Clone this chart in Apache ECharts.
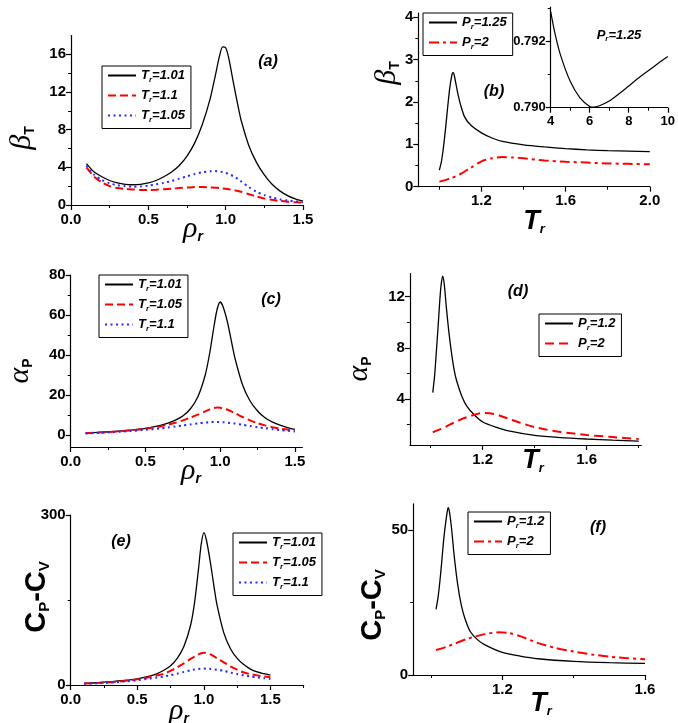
<!DOCTYPE html>
<html><head><meta charset="utf-8">
<script src="https://cdn.jsdelivr.net/npm/echarts@6/dist/echarts.min.js"></script>
<style>html,body{margin:0;padding:0;background:#fff}#c{width:678px;height:723px}</style>
</head><body><div id="c"></div>
<script>
// ---------- DATA ----------
// (a) beta_T vs rho_r
const aX = [0.1,0.15,0.2,0.25,0.3,0.35,0.4,0.45,0.5,0.55,0.6,0.65,0.7,0.75,0.8,0.85,0.9,0.93,0.96,0.98,1.0,1.02,1.05,1.08,1.1,1.15,1.2,1.25,1.3,1.35,1.4,1.45,1.5];
const aT101 = [4.4,3.5,3.0,2.6,2.35,2.2,2.15,2.2,2.35,2.6,3.0,3.5,4.2,5.2,6.6,8.6,11.3,13.5,15.8,16.8,16.7,15.6,13.0,10.5,9.0,6.3,4.5,3.2,2.2,1.5,1.0,0.65,0.4];
const aT11 = [4.0,3.0,2.4,2.0,1.8,1.7,1.65,1.6,1.6,1.62,1.67,1.73,1.8,1.85,1.9,1.9,1.87,1.84,1.8,1.76,1.72,1.67,1.58,1.48,1.4,1.15,0.9,0.7,0.55,0.43,0.35,0.29,0.25];
const aT105 = [4.2,3.2,2.65,2.3,2.1,2.0,1.95,1.97,2.05,2.2,2.35,2.55,2.8,3.05,3.3,3.48,3.58,3.6,3.56,3.5,3.4,3.3,3.05,2.75,2.5,1.9,1.4,1.05,0.8,0.6,0.47,0.37,0.3];
const aXLabels = [0,0.5,1.0,1.5], aXMinor = [0.25,0.75,1.25];
const aYLabels = [0,4,8,12,16], aYMinor = [2,6,10,14];
const aLegend = ['T_r=1.01','T_r=1.1','T_r=1.05'];

// (b) beta_T vs T_r
const bX1 = [1.0,1.01,1.02,1.03,1.04,1.05,1.06,1.065,1.07,1.08,1.09,1.1,1.12,1.15,1.2,1.25,1.3,1.4,1.5,1.6,1.7,1.8,1.9,2.0];
const bP125 = [0.39,0.6,0.95,1.4,1.9,2.35,2.65,2.7,2.65,2.4,2.15,1.95,1.65,1.45,1.27,1.15,1.07,0.99,0.94,0.9,0.87,0.85,0.84,0.83];
const bX2 = [1.0,1.05,1.1,1.15,1.2,1.25,1.3,1.35,1.4,1.5,1.6,1.7,1.8,1.9,2.0];
const bP2 = [0.12,0.19,0.3,0.45,0.6,0.67,0.7,0.69,0.67,0.62,0.59,0.57,0.55,0.54,0.53];
const bXLabels = [1.2,1.6,2.0], bXMinor = [1.0,1.4,1.8];
const bYLabels = [0,1,2,3,4], bYMinor = [0.5,1.5,2.5,3.5];
const bLegend = ['P_r=1.25','P_r=2'];

// (b) inset
const inX = [4,4.2,4.5,5,5.5,6,6.2,6.5,7,7.5,8,8.5,9,9.5,10];
const inY = [0.79291,0.7923,0.7916,0.7908,0.7903,0.79004,0.79002,0.79006,0.7902,0.79042,0.79066,0.7909,0.79112,0.79134,0.79155];
const inXLabels = [4,6,8,10], inXMinor = [5,7,9];
const inYLabels = [0.790,0.792], inYMinor = [0.791,0.793];

// (c) alpha_P vs rho_r
const cX = [0.1,0.2,0.3,0.4,0.5,0.6,0.65,0.7,0.75,0.8,0.85,0.9,0.93,0.96,0.98,1.0,1.02,1.05,1.08,1.1,1.15,1.2,1.25,1.3,1.35,1.4,1.45,1.5];
const cT101 = [1.0,1.4,1.8,2.4,3.3,4.8,5.9,7.4,9.5,13,19,30,41,55,63,66.5,64,56,45,38,25,17,12,8.6,6.4,4.9,3.7,2.8];
const cT105 = [0.9,1.3,1.7,2.3,3.1,4.3,5.1,6.1,7.3,8.7,10.2,11.8,12.8,13.5,13.7,13.6,13.3,12.6,11.6,10.9,9.0,7.3,5.9,4.8,3.9,3.2,2.7,2.3];
const cT11 = [0.8,1.1,1.5,2.0,2.6,3.3,3.8,4.3,4.8,5.3,5.8,6.2,6.4,6.5,6.5,6.5,6.4,6.2,5.9,5.7,5.1,4.5,3.9,3.4,2.9,2.5,2.1,1.8];
const cXLabels = [0,0.5,1.0,1.5], cXMinor = [0.25,0.75,1.25];
const cYLabels = [0,20,40,60,80], cYMinor = [10,30,50,70];
const cLegend = ['T_r=1.01','T_r=1.05','T_r=1.1'];

// (d) alpha_P vs T_r
const dX1 = [1.008,1.015,1.02,1.028,1.035,1.04,1.046,1.052,1.06,1.07,1.08,1.09,1.1,1.12,1.14,1.17,1.2,1.25,1.3,1.4,1.5,1.6,1.7,1.8];
const dP12 = [4.5,5.8,7.2,9.5,11.7,12.9,13.6,13.0,11.2,9.2,7.6,6.3,5.4,4.2,3.4,2.7,2.2,1.8,1.5,1.15,0.98,0.87,0.78,0.7];
const dX2 = [1.008,1.05,1.1,1.15,1.2,1.25,1.3,1.35,1.4,1.45,1.5,1.6,1.7,1.8];
const dP2 = [1.4,1.75,2.25,2.65,2.9,2.8,2.45,2.1,1.8,1.58,1.42,1.18,1.02,0.87];
const dXLabels = [1.2,1.6], dXMinor = [1.0,1.4,1.8];
const dYLabels = [4,8,12], dYMinor = [2,6,10];
const dLegend = ['P_r=1.2','P_r=2'];

// (e) Cp-Cv vs rho_r
const eX = [0.1,0.2,0.3,0.4,0.5,0.6,0.65,0.7,0.75,0.8,0.85,0.9,0.93,0.96,0.98,1.0,1.02,1.05,1.08,1.1,1.15,1.2,1.25,1.3,1.35,1.4,1.45,1.5];
const eT101 = [3,4,6,8,11,16,20,26,34,47,68,105,145,205,248,269,255,215,168,140,92,64,47,36,28,23,20,17.5];
const eT105 = [2.5,3.5,5,7,10,14,17,20,25,31,38,46,50,54,56,57,56.5,54,50,47,40,33,27,22,19,17,15,13.5];
const eT11 = [2,3,4.2,6,8.5,11.5,13.2,15,17.5,20,23,26,27.3,28.3,28.8,29,28.8,28.3,27.5,27,25,22,19.5,17,15,13.5,12,10.5];
const eXLabels = [0,0.5,1.0,1.5], eXMinor = [0.25,0.75,1.25,1.75];
const eYLabels = [0,300], eYMinor = [150];
const eLegend = ['T_r=1.01','T_r=1.05','T_r=1.1'];

// (f) Cp-Cv vs T_r
const fX1 = [1.014,1.02,1.025,1.03,1.035,1.04,1.045,1.048,1.052,1.058,1.065,1.075,1.085,1.095,1.11,1.13,1.15,1.2,1.25,1.3,1.4,1.5,1.6];
const fP12 = [22.6,27,32.5,39,46,51.5,56,57.7,56,50,41,31,24,19.5,15,12.2,10.5,7.8,6.5,5.6,4.7,4.25,4.0];
const fX2 = [1.014,1.05,1.1,1.15,1.19,1.22,1.25,1.3,1.35,1.4,1.45,1.5,1.55,1.6];
const fP2 = [8.6,10,12.4,14.1,14.7,14.4,13.4,11.0,9.3,8.1,7.1,6.3,5.8,5.4];
const fXLabels = [1.2,1.6], fXMinor = [1.0,1.4];
const fYLabels = [0,50], fYMinor = [25];
const fLegend = ['P_r=1.2','P_r=2'];

// ---------- BUILD ----------
const F = 'Liberation Sans, Arial, sans-serif';
const SERIF = 'Liberation Serif, Times New Roman, serif';
const BLACK = {color:'#000', width:1.3, type:'solid'};
const RED_DASH = {color:'#ff0000', width:2, type:[8,4]};
const RED_DASHDOT = {color:'#ff0000', width:2, type:[10,4,3,4]};
const BLUE_DOT = {color:'#2a2aff', width:2, type:[2,3.5]};

const grids = [], xAxes = [], yAxes = [], series = [], legends = [], graphics = [];

function axisPair(dim, gi, min, max, labels, minors, dec, fs) {
  const pos = dim === 'x' ? 'bottom' : 'left';
  const main = {
    type:'value', gridIndex:gi, position:pos, min:min, max:max,
    axisLine:{show:true, onZero:false, lineStyle:{color:'#000', width:1.2}},
    axisTick:{show:true, inside:false, length:5, customValues:labels, lineStyle:{color:'#000', width:1.2}},
    axisLabel:{show:true, customValues:labels, formatter:(v)=>Number(v).toFixed(dec), color:'#000',
      fontFamily:F, fontWeight:'bold', fontSize:fs, margin: dim==='x' ? 7 : 5},
    splitLine:{show:false}, minorTick:{show:false}
  };
  const minor = {
    type:'value', gridIndex:gi, position:pos, min:min, max:max,
    axisLine:{show:false, onZero:false},
    axisTick:{show:true, inside:false, length:3, customValues:minors, lineStyle:{color:'#000', width:1}},
    axisLabel:{show:false}, splitLine:{show:false}
  };
  return [main, minor];
}

function panel(g, x, y, legend, lines) {
  const gi = grids.length;
  grids.push(g);
  xAxes.push(...axisPair('x', gi, x.min, x.max, x.labels, x.minor, x.dec, x.fs || 15));
  yAxes.push(...axisPair('y', gi, y.min, y.max, y.labels, y.minor, y.dec, y.fs || 15));
  lines.forEach(l => {
    series.push({
      type:'line', name:l.name, xAxisIndex:2*gi, yAxisIndex:2*gi,
      data:l.xs.map((v,i)=>[v, l.ys[i]]), symbol:'none', showSymbol:false,
      smooth:0.25, lineStyle:l.style, itemStyle:{color:l.style.color},
      silent:true, animation:false, z:3
    });
  });
  if (legend) legends.push(legend);
}

function legendTxt(name) {
  const t = name.split(':')[1];
  const m = t.match(/^(\w)_(\w)(.*)$/);
  return '{i|' + m[1] + '}{s|' + m[2] + '}{i|' + m[3] + '}';
}
const legRich = {
  i:{fontFamily:F, fontWeight:'bold', fontStyle:'italic', fontSize:13, lineHeight:16, color:'#000'},
  s:{fontFamily:F, fontWeight:'bold', fontStyle:'italic', fontSize:8, lineHeight:3, verticalAlign:'bottom', color:'#000'}
};
function mkLegend(tag, labels, left, top) {
  return {
    data: labels.map(l => tag + ':' + l), left:left, top:top, orient:'vertical',
    itemWidth:28, itemHeight:14, itemGap:5.5, padding:[3,6,5,5],
    borderColor:'#000', borderWidth:1, borderRadius:0, selectedMode:false,
    itemStyle:{opacity:0, borderWidth:0},
    backgroundColor:'rgba(0,0,0,0)', formatter:legendTxt,
    textStyle:{color:'#000', fontFamily:F, fontSize:13, rich:legRich}
  };
}

// (a)
panel({left:71, top:35.5, width:232, height:169.5},
  {min:0, max:1.5, labels:aXLabels, minor:aXMinor, dec:1},
  {min:0, max:18, labels:aYLabels, minor:aYMinor, dec:0},
  mkLegend('a', aLegend, 102, 66),
  [{name:'a:'+aLegend[0], xs:aX, ys:aT101, style:BLACK},
   {name:'a:'+aLegend[1], xs:aX, ys:aT11, style:RED_DASH},
   {name:'a:'+aLegend[2], xs:aX, ys:aT105, style:BLUE_DOT}]);
// (b)
panel({left:418.3, top:13.1, width:231.5, height:173.6},
  {min:0.9, max:2.0, labels:bXLabels, minor:bXMinor, dec:1},
  {min:0, max:4.1, labels:bYLabels, minor:bYMinor, dec:0},
  mkLegend('b', bLegend, 423, 13),
  [{name:'b:'+bLegend[0], xs:bX1, ys:bP125, style:BLACK},
   {name:'b:'+bLegend[1], xs:bX2, ys:bP2, style:RED_DASHDOT}]);
// (c)
panel({left:70.7, top:275, width:231.7, height:172},
  {min:0, max:1.55, labels:cXLabels, minor:cXMinor, dec:1},
  {min:-6, max:80, labels:cYLabels, minor:cYMinor, dec:0},
  mkLegend('c', cLegend, 99, 275),
  [{name:'c:'+cLegend[0], xs:cX, ys:cT101, style:BLACK},
   {name:'c:'+cLegend[1], xs:cX, ys:cT105, style:RED_DASH},
   {name:'c:'+cLegend[2], xs:cX, ys:cT11, style:BLUE_DOT}]);
// (d)
panel({left:409.9, top:273.6, width:231.4, height:171.4},
  {min:0.92, max:1.81, labels:dXLabels, minor:dXMinor, dec:1},
  {min:0.4, max:13.8, labels:dYLabels, minor:dYMinor, dec:0},
  mkLegend('d', dLegend, 539, 314),
  [{name:'d:'+dLegend[0], xs:dX1, ys:dP12, style:BLACK},
   {name:'d:'+dLegend[1], xs:dX2, ys:dP2, style:Object.assign({}, RED_DASH, {type:[9,5]})}]);
// (e)
panel({left:70.7, top:515, width:233, height:170},
  {min:0, max:1.75, labels:eXLabels, minor:eXMinor, dec:1},
  {min:0, max:300, labels:eYLabels, minor:eYMinor, dec:0},
  mkLegend('e', eLegend, 233, 533),
  [{name:'e:'+eLegend[0], xs:eX, ys:eT101, style:BLACK},
   {name:'e:'+eLegend[1], xs:eX, ys:eT105, style:RED_DASH},
   {name:'e:'+eLegend[2], xs:eX, ys:eT11, style:BLUE_DOT}]);
// (f)
panel({left:413.2, top:503.9, width:231.8, height:171.1},
  {min:0.95, max:1.6, labels:fXLabels, minor:fXMinor, dec:1},
  {min:0, max:59, labels:fYLabels, minor:fYMinor, dec:0},
  mkLegend('f', fLegend, 468, 512),
  [{name:'f:'+fLegend[0], xs:fX1, ys:fP12, style:BLACK},
   {name:'f:'+fLegend[1], xs:fX2, ys:fP2, style:RED_DASHDOT}]);
// inset of (b)
panel({left:550.7, top:7.1, width:122.6, height:100.6},
  {min:4, max:10, labels:inXLabels, minor:inXMinor, dec:0, fs:13},
  {min:0.790, max:0.79305, labels:inYLabels, minor:inYMinor, dec:3, fs:13},
  null,
  [{name:'inset', xs:inX, ys:inY, style:{color:'#000', width:1.2, type:'solid'}}]);

// ---------- TEXT ----------
function gtext(x, y, text, rich, rot) {
  return {type:'text', x:x, y:y, rotation:rot||0, silent:true, z:10,
    style:{text:text, rich:rich, align:'center', verticalAlign:'middle', fill:'#000'}};
}
const richGreek = {
  g:{fontFamily:SERIF, fontStyle:'italic', fontSize:30, lineHeight:30, fill:'#000'},
  s:{fontFamily:F, fontWeight:'bold', fontSize:14, lineHeight:2, verticalAlign:'bottom', fill:'#000'},
  r:{fontFamily:F, fontWeight:'bold', fontStyle:'italic', fontSize:14, lineHeight:2, verticalAlign:'bottom', fill:'#000'}
};
const richT = {
  t:{fontFamily:F, fontWeight:'bold', fontStyle:'italic', fontSize:27, lineHeight:28, fill:'#000'},
  r:{fontFamily:F, fontWeight:'bold', fontStyle:'italic', fontSize:13, lineHeight:2, verticalAlign:'bottom', fill:'#000'}
};
const richC = {
  c:{fontFamily:F, fontWeight:'bold', fontSize:29, lineHeight:30, fill:'#000'},
  s:{fontFamily:F, fontWeight:'bold', fontSize:15, lineHeight:10, verticalAlign:'bottom', fill:'#000'}
};
const richP = {
  p:{fontFamily:F, fontWeight:'bold', fontStyle:'italic', fontSize:16, lineHeight:18, fill:'#000'},
  i:{fontFamily:F, fontWeight:'bold', fontStyle:'italic', fontSize:13, lineHeight:16, fill:'#000'},
  s:{fontFamily:F, fontWeight:'bold', fontStyle:'italic', fontSize:8, lineHeight:3, verticalAlign:'bottom', fill:'#000'}
};
const R90 = Math.PI/2;
graphics.push(
  gtext(22, 138, '{g|β}{s|T}', richGreek, R90),
  gtext(387, 73, '{g|β}{s|T}', richGreek, R90),
  gtext(20, 371, '{g|α}{s|P}', richGreek, R90),
  gtext(359, 369, '{g|α}{s|P}', richGreek, R90),
  gtext(37, 597, '{c|C}{s|P}{c|-C}{s|V}', richC, R90),
  gtext(373, 605, '{c|C}{s|P}{c|-C}{s|V}', richC, R90),
  gtext(193, 229, '{g|ρ}{r|r}', richGreek),
  gtext(191, 471, '{g|ρ}{r|r}', richGreek),
  gtext(179, 711, '{g|ρ}{r|r}', richGreek),
  gtext(534, 222, '{t|T}{r|r}', richT),
  gtext(533, 461, '{t|T}{r|r}', richT),
  gtext(541, 704, '{t|T}{r|r}', richT),
  gtext(268, 62, '{p|(a)}', richP),
  gtext(494, 92, '{p|(b)}', richP),
  gtext(271, 300, '{p|(c)}', richP),
  gtext(518, 292, '{p|(d)}', richP),
  gtext(121, 542, '{p|(e)}', richP),
  gtext(598, 528, '{p|(f)}', richP),
  gtext(619, 35, '{i|P}{s|r}{i|=1.25}', richP)
);

const chart = echarts.init(document.getElementById('c'), null, {renderer:'canvas'});
chart.setOption({
  animation:false, backgroundColor:'#fff',
  textStyle:{fontFamily:F},
  grid:grids, xAxis:xAxes, yAxis:yAxes, series:series, legend:legends, graphic:graphics,
  tooltip:{show:false}
});
</script></body></html>
